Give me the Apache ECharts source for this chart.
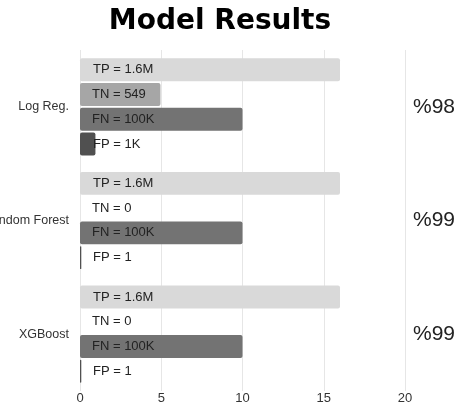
<!DOCTYPE html>
<html>
<head>
<meta charset="utf-8">
<script src="https://cdn.jsdelivr.net/npm/echarts@6/dist/echarts.min.js"></script>
<style>
  html, body { margin: 0; padding: 0; background: #fff; }
  #chart { width: 461px; height: 409px; }
</style>
</head>
<body>
<div id="chart"></div>
<script>
// Models compared, top to bottom
const models = ['Log Reg.', 'Random Forest', 'XGBoost'];
const accuracy = ['%98', '%99', '%99'];

// Bar lengths per confusion-matrix cell
const tpValues = [16, 16, 16];
const tnValues = [4.95, 0, 0];
const fnValues = [10, 10, 10];
const fpValues = [0.95, 0.08, 0.08];

// Text shown on each bar
const tpLabels = ['TP = 1.6M', 'TP = 1.6M', 'TP = 1.6M'];
const tnLabels = ['TN = 549', 'TN = 0', 'TN = 0'];
const fnLabels = ['FN = 100K', 'FN = 100K', 'FN = 100K'];
const fpLabels = ['FP = 1K', 'FP = 1', 'FP = 1'];

const xTicks = [0, 5, 10, 15, 20];

const chart = echarts.init(document.getElementById('chart'));

const sans = 'Liberation Sans, Arial, sans-serif';

function cellSeries(name, values, labels, color, labelDist) {
  return {
    name: name,
    type: 'bar',
    data: values,
    barGap: '8%',
    barCategoryGap: '14.5%',
    itemStyle: { color: color, borderRadius: 2 },
    label: {
      show: true,
      position: 'insideLeft',
      distance: labelDist,
      color: '#222',
      fontFamily: sans,
      fontSize: 13,
      formatter: p => labels[p.dataIndex]
    },
    emphasis: { disabled: true },
    animation: false
  };
}

chart.setOption({
  animation: false,
  title: {
    text: 'Model Results',
    left: 215,
    textAlign: 'center',
    top: 3,
    textStyle: {
      fontFamily: 'DejaVu Sans, sans-serif',
      fontWeight: 'bold',
      fontSize: 28,
      color: '#000'
    }
  },
  grid: { left: 80, right: 56, top: 50, bottom: 18, outerBoundsMode: 'none', containLabel: false },
  xAxis: {
    type: 'value',
    min: xTicks[0],
    max: xTicks[xTicks.length - 1],
    interval: 5,
    axisLine: { show: false },
    axisTick: { show: false },
    splitLine: { show: true, lineStyle: { color: '#e6e6e6', width: 1 } },
    axisLabel: {
      color: '#333',
      fontFamily: sans,
      fontSize: 13,
      margin: 1
    }
  },
  yAxis: [
    {
      type: 'category',
      data: models,
      inverse: true,
      axisLine: { show: false },
      axisTick: { show: false },
      axisLabel: {
        color: '#333',
        fontFamily: sans,
        fontSize: 12.5,
        margin: 11
      }
    },
    {
      type: 'category',
      data: accuracy,
      inverse: true,
      position: 'right',
      axisLine: { show: false },
      axisTick: { show: false },
      axisLabel: {
        color: '#222',
        fontFamily: sans,
        fontSize: 21,
        margin: 8,
        padding: [0, 0, 14, 0]
      }
    }
  ],
  series: [
    cellSeries('TP', tpValues, tpLabels, '#d9d9d9', 13),
    cellSeries('TN', tnValues, tnLabels, '#a6a6a6', 12),
    cellSeries('FN', fnValues, fnLabels, '#737373', 12),
    cellSeries('FP', fpValues, fpLabels, '#505050', 13)
  ]
});
</script>
</body>
</html>
